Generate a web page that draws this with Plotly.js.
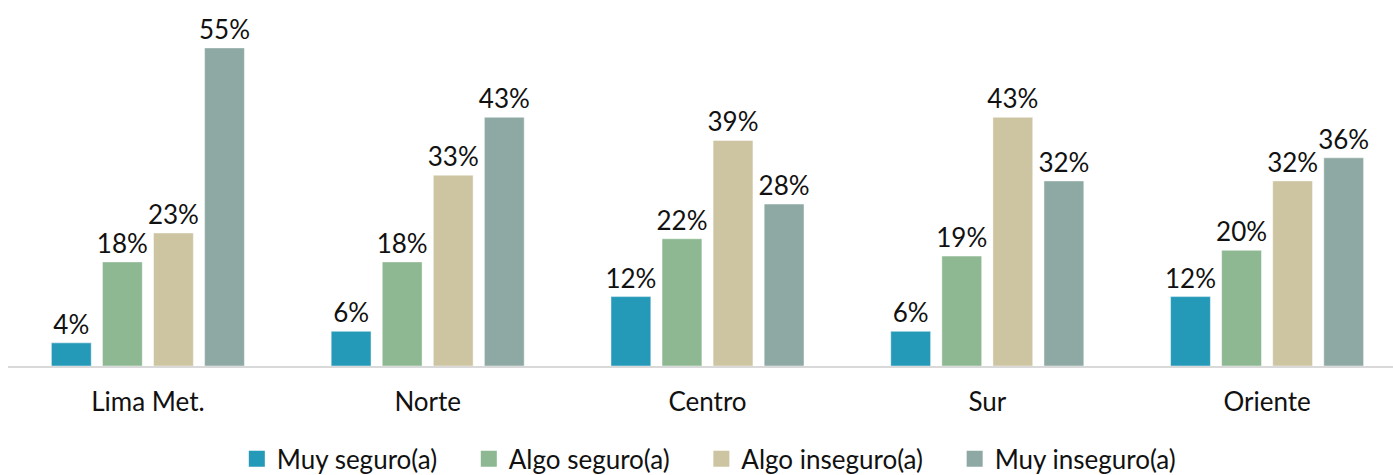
<!DOCTYPE html>
<html><head><meta charset="utf-8">
<script src="https://cdn.plot.ly/plotly-3.0.1.min.js"></script>
<style>html,body{margin:0;padding:0;background:#fff}#chart{width:1393px;height:475px}</style>
</head><body><div id="chart"></div>
<script>
const categories = ["Lima Met.", "Norte", "Centro", "Sur", "Oriente"];
const seriesNames = ["Muy seguro(a)", "Algo seguro(a)", "Algo inseguro(a)", "Muy inseguro(a)"];
const muySeguro = [4, 6, 12, 6, 12];
const algoSeguro = [18, 18, 22, 19, 20];
const algoInseguro = [23, 33, 39, 43, 32];
const muyInseguro = [55, 43, 28, 32, 36];
const colors = ["#2599b8", "#8db892", "#cdc4a1", "#8ea9a3"];

const values = [muySeguro, algoSeguro, algoInseguro, muyInseguro];
const FONT = "Lato, 'Open Sans', sans-serif";
const PAD = "\u00a0\u00a0\u00a0\u00a0";
const traces = values.map((v, i) => ({
  type: "bar",
  name: seriesNames[i],
  x: categories,
  y: v,
  showlegend: false,
  marker: {color: colors[i], line: {color: "rgba(255,255,255,0.45)", width: 1}},
  text: v.map(d => d + "%"),
  textposition: "outside",
  constraintext: "none",
  cliponaxis: false,
  textfont: {family: FONT, size: 26, color: "#111"}
}));
// legend entries (square swatches)
seriesNames.forEach((n, i) => traces.push({
  type: "scatter", mode: "markers", x: [null], y: [null],
  name: i < seriesNames.length - 1 ? n + PAD : n,
  marker: {symbol: "square", size: 16, color: colors[i]},
  showlegend: true, hoverinfo: "skip"
}));

const layout = {
  width: 1393, height: 475,
  margin: {l: 8, r: 0, t: 19, b: 109},
  paper_bgcolor: "#fff", plot_bgcolor: "#fff",
  barmode: "group",
  bargap: 0.27,
  bargroupgap: 0.22,
  showlegend: true,
  legend: {orientation: "h", x: 0.506, xanchor: "center", yref: "container", y: 0.034, yanchor: "middle",
           font: {family: FONT, size: 26, color: "#111"}, itemwidth: 30, tracegroupgap: 0},
  xaxis: {range: [-0.5, 4.45], showline: true, linecolor: "#d9d9d9", linewidth: 2,
          ticks: "", showgrid: false, ticklabelstandoff: 12,
          tickfont: {family: FONT, size: 26, color: "#111"}},
  yaxis: {range: [0, 60], visible: false, showgrid: false, zeroline: false},
  font: {family: FONT}
};
Plotly.newPlot("chart", traces, layout, {displayModeBar: false, staticPlot: true});
</script></body></html>
